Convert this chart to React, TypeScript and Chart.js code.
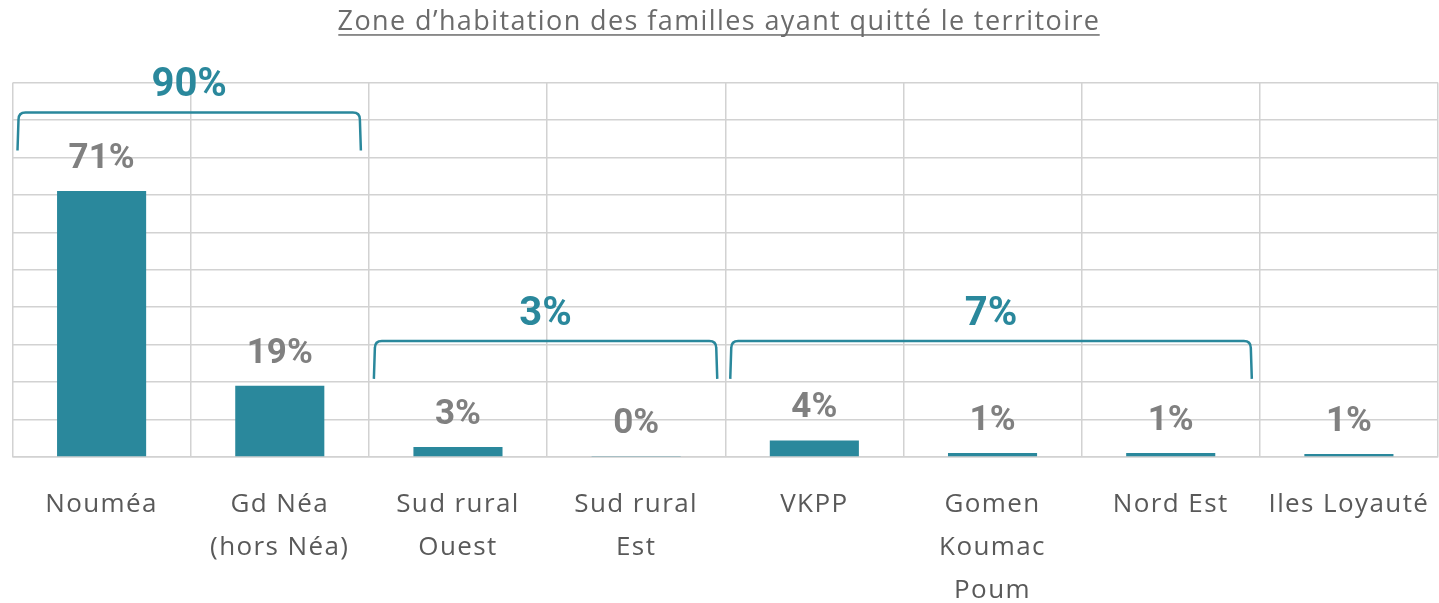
import { useEffect, useRef } from 'react';
import { Chart, registerables } from 'chart.js';

Chart.register(...registerables);

const TITLE = 'Zone d\u2019habitation des familles ayant quitté le territoire';
const categories: string[][] = [
  ['Nouméa'],
  ['Gd Néa', '(hors Néa)'],
  ['Sud rural', 'Ouest'],
  ['Sud rural', 'Est'],
  ['VKPP'],
  ['Gomen', 'Koumac', 'Poum'],
  ['Nord Est'],
  ['Iles Loyauté'],
];
const values = [71, 19, 2.7, 0.3, 4.4, 1.1, 1.1, 0.8];
const valueLabels = ['71%', '19%', '3%', '0%', '4%', '1%', '1%', '1%'];

const groupLabels = ['90%', '3%', '7%'];
const groupFirst = [0, 2, 4];
const groupLast = [1, 3, 6];
const groupLevel = [92, 31, 31];

const TEAL = '#2a889c';
const GRID = '#d2d2d2';
const TITLE_SIZE = 27;

const overlayPlugin = {
  id: 'overlay',
  beforeDraw(chart: any) {
    chart.ctx.letterSpacing = '1.4px';
  },
  afterDatasetsDraw(chart: any) {
    const { ctx } = chart;
    const x = chart.scales.x;
    const y = chart.scales.y;
    ctx.save();
    ctx.letterSpacing = '0px';
    ctx.textAlign = 'center';
    ctx.textBaseline = 'middle';
    // value labels
    ctx.font = 'bold 35px Roboto';
    ctx.fillStyle = '#808080';
    values.forEach((v, i) => {
      ctx.fillText(valueLabels[i], x.getPixelForValue(i), y.getPixelForValue(v) - 32);
    });
    // group brackets
    const half = (x.getPixelForValue(1) - x.getPixelForValue(0)) / 2;
    ctx.strokeStyle = TEAL;
    ctx.fillStyle = TEAL;
    ctx.lineWidth = 2.5;
    ctx.font = 'bold 40px Roboto';
    groupLabels.forEach((lab, g) => {
      const x0 = x.getPixelForValue(groupFirst[g]) - half + 5;
      const x1 = x.getPixelForValue(groupLast[g]) + half - 8;
      const yt = y.getPixelForValue(groupLevel[g]);
      const yb = yt + 38;
      const r = 7;
      ctx.beginPath();
      ctx.moveTo(x0, yb);
      ctx.lineTo(x0 + 1, yt + r);
      ctx.quadraticCurveTo(x0 + 1, yt, x0 + 1 + r, yt);
      ctx.lineTo(x1 - 1 - r, yt);
      ctx.quadraticCurveTo(x1 - 1, yt, x1 - 1, yt + r);
      ctx.lineTo(x1, yb);
      ctx.stroke();
      ctx.fillText(lab, (x0 + x1) / 2, yt - 26);
    });
    ctx.restore();
  },
  afterDraw(chart: any) {
    const { ctx } = chart;
    const tb = chart.titleBlock;
    ctx.save();
    ctx.font = `${TITLE_SIZE}px "Open Sans"`;
    ctx.letterSpacing = '1.4px';
    const w = ctx.measureText(TITLE).width - 1.4;
    const cx = (tb.left + tb.right) / 2;
    const ty = tb.top + 6 + (TITLE_SIZE * 1.2) / 2 + 12;
    ctx.fillStyle = '#6b6b6b';
    ctx.fillRect(cx - w / 2, ty, w, 1.5);
    ctx.restore();
    ctx.letterSpacing = '0px';
  },
};

export default function App() {
  const ref = useRef<HTMLCanvasElement | null>(null);
  useEffect(() => {
    document.body.style.margin = '0';
    if (!ref.current) return;
    const chart = new Chart(ref.current, {
      type: 'bar',
      data: {
        labels: categories,
        datasets: [
          {
            data: values,
            backgroundColor: TEAL,
            borderWidth: 0,
            categoryPercentage: 1,
            barPercentage: 0.5,
          },
        ],
      },
      options: {
        animation: false,
        responsive: true,
        maintainAspectRatio: false,
        layout: { padding: { left: 0, right: 1, top: 0, bottom: 0 } },
        plugins: {
          legend: { display: false },
          tooltip: { enabled: false },
          title: {
            display: true,
            text: TITLE,
            color: '#6b6b6b',
            font: { family: 'Open Sans', size: TITLE_SIZE, weight: 'normal', lineHeight: 1.2 },
            padding: { top: 6, bottom: 44.1 },
          },
        },
        scales: {
          x: {
            grid: { color: GRID, lineWidth: 1.5, offset: true, drawTicks: false },
            border: { display: true, color: GRID, width: 1.5 },
            ticks: {
              color: '#595959',
              font: { family: 'Open Sans', size: 26, lineHeight: 1.654 },
              padding: 26,
              maxRotation: 0,
              autoSkip: false,
            },
            afterFit: (s: any) => {
              s.height = 146;
              s.paddingLeft = 0;
              s.paddingRight = 0;
            },
          },
          y: {
            min: 0,
            max: 100,
            ticks: { display: false, stepSize: 10 },
            grid: { color: GRID, lineWidth: 1.5, drawTicks: false },
            border: { display: false },
            afterFit: (s: any) => {
              s.width = 12.5;
              s.paddingTop = 0;
              s.paddingBottom = 0;
            },
          },
        },
      },
      plugins: [overlayPlugin],
    });
    return () => chart.destroy();
  }, []);
  return (
    <div style={{ width: 1439, height: 603, position: 'relative' }}>
      <canvas ref={ref} />
    </div>
  );
}
